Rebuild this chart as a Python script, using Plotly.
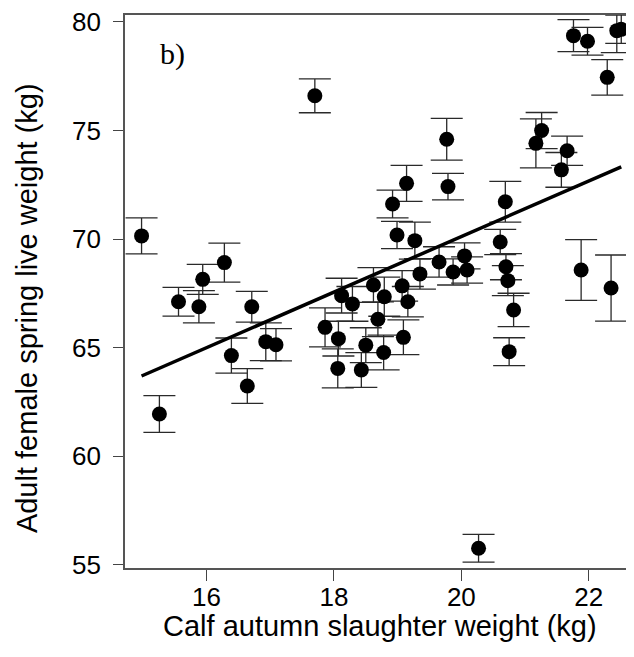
import numpy as np
import plotly.graph_objects as go

# Calf autumn slaughter weight (kg)
calf_weight = [14.98, 15.26, 15.56, 15.94, 15.88, 16.28, 16.71, 16.39, 16.64, 16.93,
               17.09, 17.70, 19.14, 19.79, 18.92, 18.99, 19.27, 19.65, 20.05, 19.87,
               20.09, 19.35, 18.62, 19.07, 18.12, 18.29, 18.79, 19.16, 18.69, 17.86,
               18.07, 19.09, 18.50, 18.78, 18.06, 18.43, 19.77, 20.69, 20.61, 20.70,
               20.73, 20.82, 20.75, 21.88, 22.35, 21.76, 21.98, 22.44, 22.51, 22.29,
               21.26, 21.17, 21.66, 21.57, 20.27]
# Adult female spring live weight (kg)
female_weight = [70.15, 61.95, 67.12, 68.15, 66.89, 68.92, 66.89, 64.64, 63.24, 65.28,
                 65.14, 76.60, 72.57, 72.42, 71.62, 70.19, 69.93, 68.95, 69.23, 68.49,
                 68.58, 68.40, 67.89, 67.85, 67.40, 67.02, 67.35, 67.12, 66.31, 65.94,
                 65.42, 65.48, 65.12, 64.78, 64.05, 63.98, 74.60, 71.72, 69.87, 68.73,
                 68.09, 66.74, 64.82, 68.58, 67.75, 79.37, 79.11, 79.60, 79.66, 77.45,
                 75.00, 74.41, 74.07, 73.19, 55.77]
# Standard errors (kg)
female_se = [0.83, 0.85, 0.66, 0.69, 0.74, 0.90, 0.71, 0.81, 0.80, 0.87,
             0.74, 0.78, 0.83, 0.61, 0.64, 0.63, 0.85, 0.70, 0.60, 0.60,
             0.60, 0.70, 0.80, 0.70, 0.80, 0.80, 0.90, 0.70, 0.80, 0.90,
             0.80, 0.80, 0.80, 0.80, 0.90, 0.80, 0.96, 0.94, 0.58, 0.60,
             0.69, 0.77, 0.64, 1.40, 1.52, 0.74, 0.64, 1.01, 0.65, 0.82,
             0.83, 1.13, 0.67, 0.80, 0.64]

# Regression line
fit_intercept = 44.54
fit_slope = 1.279

x_ticks = [16, 18, 20, 22]
y_ticks = [55, 60, 65, 70, 75, 80]

fig = go.Figure()
fig.add_trace(go.Scatter(
    x=calf_weight, y=female_weight, mode="markers",
    marker=dict(color="black", size=15, line=dict(width=0)),
    error_y=dict(type="data", array=female_se, visible=True,
                 color="#2a2a2a", thickness=1.3, width=16),
    cliponaxis=False, showlegend=False, hoverinfo="x+y"))

lx = np.array([min(calf_weight), max(calf_weight)])
fig.add_trace(go.Scatter(
    x=lx, y=fit_intercept + fit_slope * lx, mode="lines",
    line=dict(color="black", width=3.5), showlegend=False, hoverinfo="skip"))

sans = "Liberation Sans, Arial, sans-serif"
tick_font = dict(family=sans, size=26, color="black")
title_font = dict(family=sans, size=29, color="black")

fig.update_layout(
    width=626, height=649,
    margin=dict(l=117, r=0, t=7, b=89),
    paper_bgcolor="white", plot_bgcolor="white",
    font=tick_font,
    xaxis=dict(range=[14.72, 22.71], tickvals=x_ticks, ticks="outside", ticklen=11,
               tickwidth=1.3, tickcolor="#444", showline=True, linecolor="#555",
               linewidth=1.6, mirror=True, showgrid=False, zeroline=False,
               tickfont=tick_font, automargin=False, ticklabelstandoff=-6,
               ticklabeloverflow="allow"),
    yaxis=dict(range=[54.86, 80.32], tickvals=y_ticks, ticks="outside", ticklen=10,
               tickwidth=1.3, tickcolor="#444", showline=True, linecolor="#555",
               linewidth=1.6, mirror=False, showgrid=False, zeroline=False,
               tickfont=tick_font, ticklabelstandoff=7, automargin=False,
               ticklabeloverflow="allow"),
    annotations=[
        dict(text="Calf autumn slaughter weight (kg)", xref="paper", yref="paper",
             x=0.5, y=-0.105, xanchor="center", yanchor="middle", showarrow=False,
             font=title_font),
        dict(text="Adult female spring live weight (kg)", xref="paper", yref="paper",
             x=-0.1925, y=0.47, xanchor="center", yanchor="middle", showarrow=False,
             textangle=-90, font=title_font),
        dict(text="b)", xref="paper", yref="paper", x=0.094, y=0.93,
             xanchor="center", yanchor="middle", showarrow=False,
             font=dict(family="Liberation Serif, Times New Roman, serif", size=30, color="black")),
    ],
)

fig.write_html("out.html")
